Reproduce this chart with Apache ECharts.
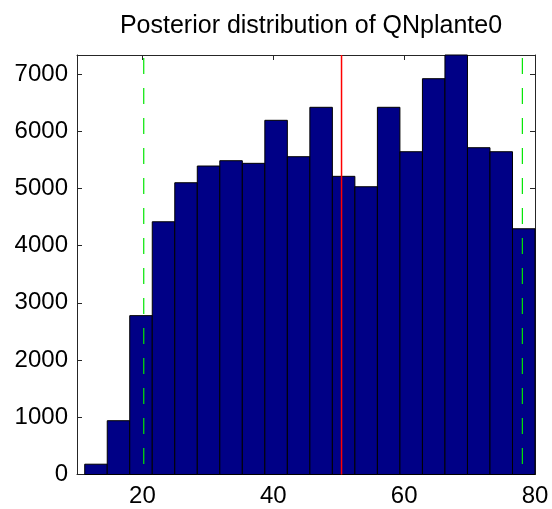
<!DOCTYPE html>
<html>
<head>
<meta charset="utf-8">
<script src="https://cdn.jsdelivr.net/npm/echarts@6/dist/echarts.min.js"></script>
<style>
  html, body { margin: 0; padding: 0; background: #fff; }
  #chart { width: 552px; height: 509px; }
</style>
</head>
<body>
<div id="chart"></div>
<script>
// Histogram of posterior samples for QNplante0 (20 equal-width bins)
const histLow = 11.18;
const histHigh = 80;
const binCounts = [180, 940, 2776, 4416, 5098, 5390, 5483, 5437, 6189, 5553,
                   6416, 5210, 5028, 6416, 5640, 6916, 7330, 5710, 5640, 4294];

// Reference lines: posterior mean and credible bounds
const meanValue = 50.43;
const credibleBounds = [20.2, 78.07];

// Axis ranges and tick labels
const xRange = [10, 80];
const yRange = [0, 7330];
const xTicks = [20, 40, 60, 80];
const yTicks = [0, 1000, 2000, 3000, 4000, 5000, 6000, 7000];

const binWidth = (histHigh - histLow) / binCounts.length;
const bins = binCounts.map((c, i) => [histLow + i * binWidth, histLow + (i + 1) * binWidth, c]);

const font = '"Liberation Sans", Arial, Helvetica, sans-serif';
const axisColor = '#262626';

// Vertical line from the top of the axes down to zero
function vline(x, color, type, width) {
  return {
    type: 'line',
    data: [[x, yRange[1]], [x, yRange[0]]],
    symbol: 'none',
    silent: true,
    z: 5,
    lineStyle: { color: color, width: width, type: type, dashOffset: -3 }
  };
}

const chart = echarts.init(document.getElementById('chart'), null, { renderer: 'canvas' });
chart.setOption({
  animation: false,
  backgroundColor: '#fff',
  title: {
    text: 'Posterior distribution of QNplante0',
    left: 306,
    textAlign: 'center',
    top: 9,
    textStyle: { fontFamily: font, fontSize: 25, fontWeight: 'normal', color: '#000' }
  },
  grid: { left: 77, right: 17, top: 55, bottom: 34.5, outerBoundsMode: 'none' },
  xAxis: [
    {
      type: 'value', min: xRange[0], max: xRange[1], position: 'bottom',
      splitLine: { show: false },
      axisLine: { show: true, onZero: false, lineStyle: { color: axisColor, width: 1 } },
      axisTick: { show: true, inside: true, length: 5, customValues: xTicks, lineStyle: { color: axisColor } },
      axisLabel: { customValues: xTicks, margin: 10, fontFamily: font, fontSize: 24, color: '#000',
                   formatter: v => String(v) }
    },
    {
      type: 'value', min: xRange[0], max: xRange[1], position: 'top',
      splitLine: { show: false },
      axisLine: { show: true, onZero: false, lineStyle: { color: axisColor, width: 1 } },
      axisTick: { show: true, inside: true, length: 5, customValues: xTicks, lineStyle: { color: axisColor } },
      axisLabel: { show: false }
    }
  ],
  yAxis: [
    {
      type: 'value', min: yRange[0], max: yRange[1], position: 'left',
      splitLine: { show: false },
      axisLine: { show: true, onZero: false, lineStyle: { color: axisColor, width: 1 } },
      axisTick: { show: true, inside: true, length: 5, customValues: yTicks, lineStyle: { color: axisColor } },
      axisLabel: { customValues: yTicks, margin: 9, fontFamily: font, fontSize: 24, color: '#000',
                   formatter: v => String(v) }
    },
    {
      type: 'value', min: yRange[0], max: yRange[1], position: 'right',
      splitLine: { show: false },
      axisLine: { show: true, onZero: false, lineStyle: { color: axisColor, width: 1 } },
      axisTick: { show: true, inside: true, length: 5, customValues: yTicks, lineStyle: { color: axisColor } },
      axisLabel: { show: false }
    }
  ],
  series: [
    {
      type: 'custom',
      data: bins,
      encode: { x: [0, 1], y: 2 },
      z: 2,
      renderItem: function (params, api) {
        const top = api.coord([api.value(0), api.value(2)]);
        const base = api.coord([api.value(1), 0]);
        return {
          type: 'rect',
          shape: { x: top[0], y: top[1], width: base[0] - top[0], height: base[1] - top[1] },
          style: { fill: '#000086', stroke: '#000', lineWidth: 1 }
        };
      }
    },
    vline(meanValue, '#ff0000', 'solid', 1.5),
    vline(credibleBounds[0], '#00e600', [16, 14], 1.2),
    vline(credibleBounds[1], '#00e600', [16, 14], 1.2)
  ]
});
</script>
</body>
</html>
